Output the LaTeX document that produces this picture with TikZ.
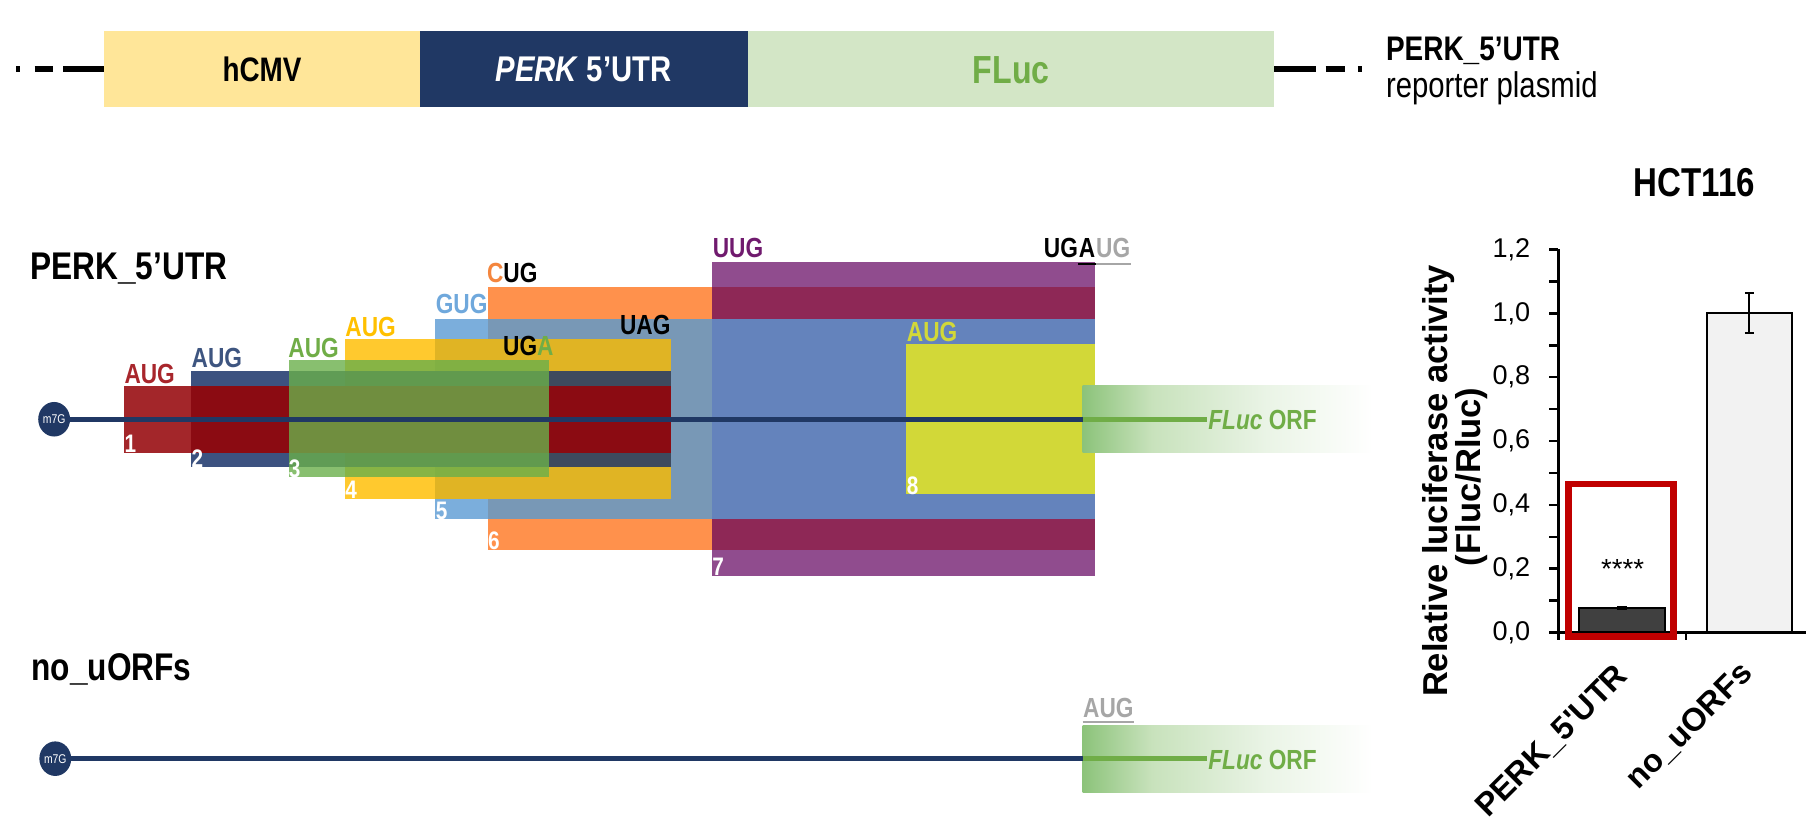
\documentclass[tikz,border=0pt]{standalone}
\usepackage{fontspec}
\setmainfont{Liberation Sans}
\newfontfamily\nar[FakeStretch=0.82]{Liberation Sans}
\usetikzlibrary{shapes.geometric}
\newcommand\fsz[1]{\fontsize{#1}{#1}\selectfont}

\definecolor{navy}{HTML}{203864}
\definecolor{cmvyellow}{HTML}{FFE699}
\definecolor{flucpale}{HTML}{D3E6C6}
\definecolor{flucgreen}{HTML}{70AD47}
\definecolor{redA}{HTML}{A3262A}
\definecolor{redB}{HTML}{8B0B12}
\definecolor{navyA}{HTML}{3C5280}
\definecolor{navyB}{HTML}{3E4A5E}
\definecolor{greenC}{HTML}{6AAF4B}
\definecolor{yelA}{HTML}{FFC92E}
\definecolor{yelB}{HTML}{E0B424}
\definecolor{blueA}{HTML}{7BAEDC}
\definecolor{blueB}{HTML}{7898B6}
\definecolor{blueC}{HTML}{6483BC}
\definecolor{orangeA}{HTML}{FF914C}
\definecolor{maroonA}{HTML}{8E2856}
\definecolor{purpleA}{HTML}{904C8E}
\definecolor{limeA}{HTML}{D2D838}
\definecolor{greyA}{HTML}{A6A6A6}
\definecolor{boxred}{HTML}{C00000}
\definecolor{bardark}{HTML}{404040}
\definecolor{barlight}{HTML}{F2F2F2}
\definecolor{orfA}{HTML}{8CC37A}
\definecolor{orfB}{HTML}{C8E2BC}
\definecolor{orfC}{HTML}{EAF4E6}
\definecolor{txtred}{HTML}{A8262C}
\definecolor{txtnavy}{HTML}{3E5580}
\definecolor{txtyel}{HTML}{FFC000}
\definecolor{txtblue}{HTML}{6FA8DC}
\definecolor{txtorange}{HTML}{F4863E}
\definecolor{txtpurple}{HTML}{701A6E}

\tikzset{
  codon/.style={anchor=base west, inner sep=0pt, font=\nar\bfseries\fsz{12}},
  orfno/.style={anchor=base west, inner sep=0pt, text=white, font=\nar\bfseries\fsz{11}},
  capnode/.style={ellipse, fill=navy, minimum width=13.7pt, minimum height=15pt,
    inner sep=0pt, text=white, font=\nar\fsz{5.5}},
  rna/.style={draw=navy, line width=2pt},
  orfline/.style={draw=flucgreen, line width=2pt},
  orftext/.style={anchor=base west, inner sep=0pt, text=flucgreen, font=\nar\bfseries\fsz{12}},
  plasmid/.style={line width=2.5pt, draw=black},
  rowlabel/.style={anchor=base west, inner sep=0pt, font=\nar\bfseries\fsz{16.75}},
  tick/.style={anchor=east, inner sep=0pt, font=\fsz{11.75}},
  axisline/.style={line width=1.15pt, draw=black},
  barline/.style={line width=0.8pt, draw=black},
  catlabel/.style={rotate=45, anchor=base east, inner sep=0pt, font=\bfseries\fsz{14}},
}

\begin{document}
\begin{tikzpicture}[x=0.5pt, y=-0.5pt]
\useasboundingbox (0,0) rectangle (1568,721);

% ---------- reporter plasmid ----------
\fill[cmvyellow] (90.7,26.9) rectangle (364.8,93.2);
\fill[navy] (364.8,26.9) rectangle (649,93.2);
\fill[flucpale] (649,26.9) rectangle (1106.5,93.2);
\node[anchor=base, inner sep=0pt, font=\nar\bfseries\fsz{14.75}] (hcmv) at (227.5,70.9) {hCMV};
\node[anchor=base, inner sep=0pt, text=white, font=\nar\bfseries\fsz{15.5}] (perkutr) at (506.6,70.9) {\textit{PERK} 5’UTR};
\node[anchor=base, inner sep=0pt, text=flucgreen, font=\nar\bfseries\fsz{17}] (fluc) at (878,72.3) {FLuc};
\draw[plasmid] (14,60.2) -- (17.5,60.2);
\draw[plasmid] (30,60.2) -- (46,60.2);
\draw[plasmid] (55,60.2) -- (90.7,60.2);
\draw[plasmid] (1106.5,60.2) -- (1142.5,60.2);
\draw[plasmid] (1151,60.2) -- (1167.5,60.2);
\draw[plasmid] (1179,60.2) -- (1182.5,60.2);
\node[anchor=base west, inner sep=0pt, font=\nar\bfseries\fsz{14.8}] (plname) at (1203,52.7) {PERK\_5’UTR};
\node[anchor=base west, inner sep=0pt, font=\nar\fsz{15.5}] (pltype) at (1203,84.5) {reporter plasmid};

% ---------- PERK 5'UTR uORFs ----------
\node[rowlabel] (row1) at (26,242.5) {PERK\_5’UTR};

% uORF 7 with uORF 6 and 5 beneath it
\fill[purpleA] (618,227.3) rectangle (950.7,500);
\fill[maroonA] (618,249.6) rectangle (950.7,477.5);
\fill[blueC] (618,276.7) rectangle (950.7,450.8);
% uORF 6
\fill[orangeA] (423.4,249.6) rectangle (618,477.5);
\fill[blueB] (423.4,276.7) rectangle (618,450.8);
% uORF 5
\fill[blueA] (378,276.7) rectangle (423.4,450.8);
% uORF 4
\fill[yelA] (299.5,294.6) rectangle (378,433);
\fill[yelB] (378,294.6) rectangle (582.5,433);
% uORF 8
\fill[limeA] (787,299) rectangle (950.7,429);
% uORF 2
\fill[navyA] (166,321.8) rectangle (299.5,405.8);
\fill[navyB] (299.5,321.8) rectangle (582.5,405.8);
% uORF 1
\fill[redA] (107.7,335.1) rectangle (166,393);
\fill[redB] (166,335.1) rectangle (582.5,393);
% uORF 3
\fill[greenC, fill opacity=0.8] (250.5,312.3) rectangle (476.3,414.5);

% start codons
\node[codon, text=txtred] (s1) at (107.7,332.8) {AUG};
\node[codon, text=txtnavy] (s2) at (166,319.5) {AUG};
\node[codon, text=flucgreen] (s3) at (250,310) {AUG};
\node[codon, text=txtyel] (s4) at (299.5,292) {AUG};
\node[codon, text=txtblue] (s5) at (378,272.6) {GUG};
\node[codon] (s6) at (422.5,245.4) {{\color{txtorange}C}UG};
\node[codon, text=txtpurple] (s7) at (618.5,223.4) {UUG};
\node[codon, text=limeA] (s8) at (787,296.7) {AUG};
% stop codons
\node[codon, anchor=base east] (e3) at (481,308.8) {UG{\color{flucgreen}A}};
\node[codon, anchor=base east] (e12) at (582.5,290.8) {UAG};
\node[codon] (e7a) at (906,224) {UG};
\node[codon, anchor=base west] (e7b) at (e7a.base east) {A};
\node[codon, anchor=base west, text=greyA] (e7c) at (e7b.base east) {UG};
\draw[black, line width=1.1pt] ([yshift=-2.6pt]e7b.base west) -- ([yshift=-2.6pt]e7b.base east);
\draw[greyA, line width=1.1pt] ([yshift=-2.6pt]e7c.base west) -- ([yshift=-2.6pt]e7c.base east);

% uORF numbers
\node[orfno] (n1) at (107.7,393) {1};
\node[orfno] (n2) at (166,406) {2};
\node[orfno] (n3) at (250.5,414.5) {3};
\node[orfno] (n4) at (299.5,433) {4};
\node[orfno] (n5) at (378,450.8) {5};
\node[orfno] (n6) at (423.4,477.5) {6};
\node[orfno] (n7) at (618,500) {7};
\node[orfno] (n8) at (787,429) {8};

% FLuc ORF and mRNA
\shade[left color=orfA, right color=orfB] (940,334.3) rectangle (1000,392.7);
\shade[left color=orfB, right color=orfC] (1000,334.3) rectangle (1100,392.7);
\shade[left color=orfC, right color=white] (1100,334.3) rectangle (1192,392.7);
\coordinate (capA) at (47,364);
\coordinate (orfA) at (940,364);
\coordinate (orfAend) at (1047.7,364);
\draw[rna] (capA) -- (orfA);
\draw[orfline] (orfA) -- (orfAend);
\node[capnode] (cap1) at (capA) {m7G};
\node[orftext] (orf1) at ([xshift=0.5pt]orfAend |- 0,373.3) {\textit{FLuc} ORF};

% ---------- construct without uORFs ----------
\node[rowlabel] (row2) at (27,591) {no\_uORFs};
\shade[left color=orfA, right color=orfB] (940,630.3) rectangle (1000,688);
\shade[left color=orfB, right color=orfC] (1000,630.3) rectangle (1100,688);
\shade[left color=orfC, right color=white] (1100,630.3) rectangle (1192,688);
\coordinate (capB) at (48,658.7);
\coordinate (orfB) at (940,658.7);
\coordinate (orfBend) at (1047.7,658.7);
\draw[rna] (capB) -- (orfB);
\draw[orfline] (orfB) -- (orfBend);
\node[capnode] (cap2) at (capB) {m7G};
\node[orftext] (orf2) at ([xshift=0.5pt]orfBend |- 0,668) {\textit{FLuc} ORF};
\node[codon, text=greyA] (s9) at (940,622.8) {AUG};
\draw[greyA, line width=1.1pt] ([yshift=-2pt]s9.base west) -- ([yshift=-2pt]s9.base east);

% ---------- luciferase chart ----------
\node[anchor=base, inner sep=0pt, font=\nar\bfseries\fsz{17.5}] (cell) at (1471,170.2) {HCT116};

% bars
\filldraw[barline, fill=barlight] (1482.3,549.3) rectangle (1555.6,272);
\filldraw[barline, fill=bardark] (1371,549.3) rectangle (1445.6,528.2);
% error bars
\draw[barline] (1518.8,254.7) -- (1518.8,289.4);
\draw[barline] (1514.9,254.7) -- (1522.7,254.7);
\draw[barline] (1514.9,289.4) -- (1522.7,289.4);
\fill[black] (1404.2,526) rectangle (1412.6,529.6);

% axes
\draw[axisline] (1353,216.5) -- (1353,555.7);
\draw[axisline] (1345,549.3) -- (1568,549.3);
\draw[axisline] (1463.8,549.3) -- (1463.8,555.7);
\foreach \k in {0,...,12}
  \draw[axisline] (1345,549.3-27.73*\k) -- (1353,549.3-27.73*\k);
\node[tick] (t0) at (1329,549.3) {0,0};
\node[tick] (t2) at (1329,493.8) {0,2};
\node[tick] (t4) at (1329,438.4) {0,4};
\node[tick] (t6) at (1329,382.9) {0,6};
\node[tick] (t8) at (1329,327.5) {0,8};
\node[tick] (t10) at (1329,272) {1,0};
\node[tick] (t12) at (1329,216.5) {1,2};

% axis titles
\node[rotate=90, inner sep=0pt, font=\bfseries\fsz{15}] (ytitle) at (1248.8,417.5) {Relative luciferase activity};
\node[rotate=90, inner sep=0pt, font=\bfseries\fsz{15}] (yunit) at (1277.8,414) {(Fluc/Rluc)};
\node[catlabel] (cat1) at (1415,588) {PERK\_5\textquotesingle UTR};
\node[catlabel] (cat2) at (1523,586) {no\_uORFs};

% significance and highlight
\node[inner sep=0pt, font=\fsz{12}] (sig) at (1408.8,494) {****};
\draw[boxred, line width=2.9pt] (1361.7,420.2) rectangle (1452.8,552.8);
\end{tikzpicture}
\end{document}
